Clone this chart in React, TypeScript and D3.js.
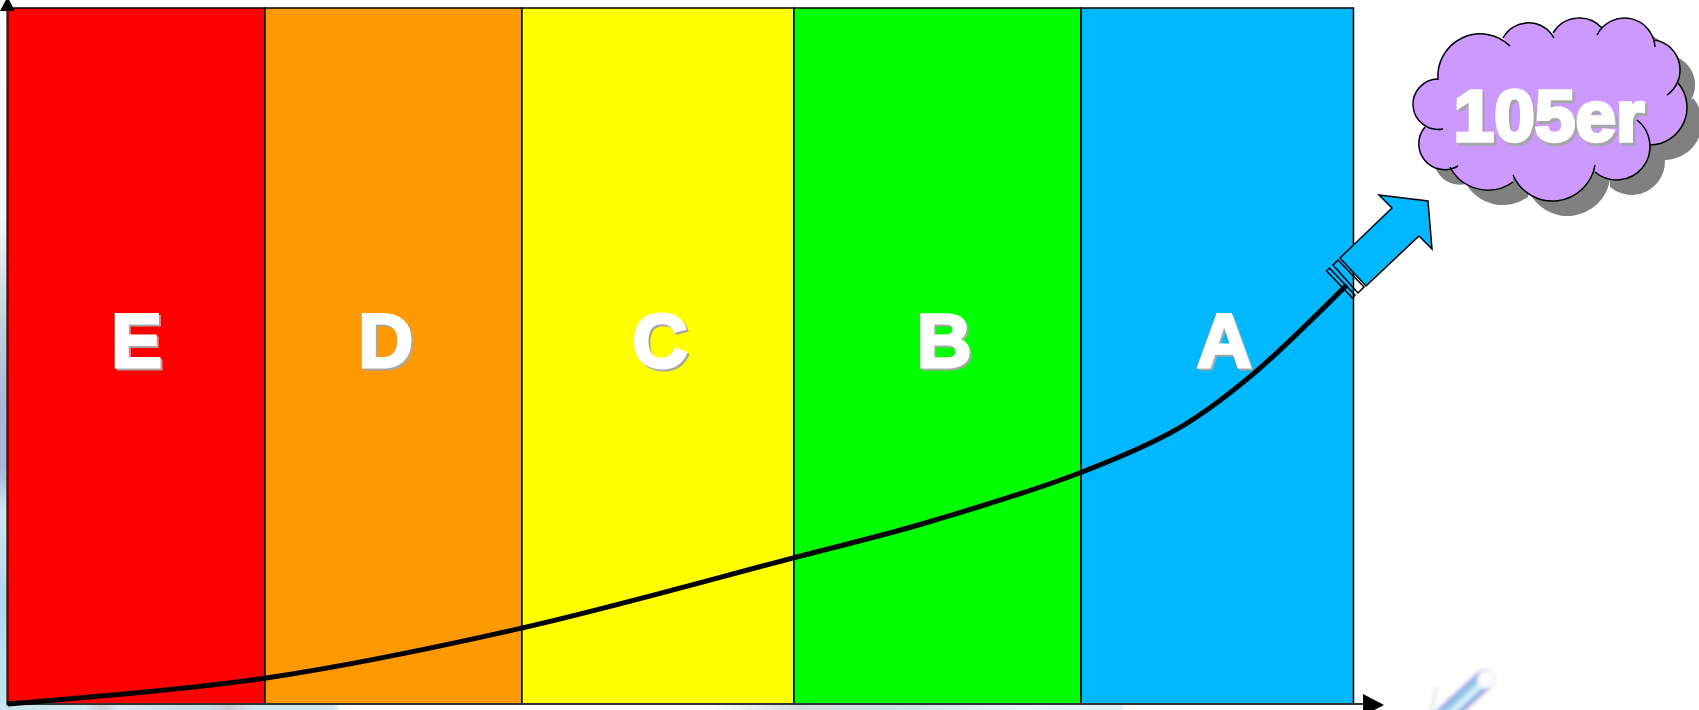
import React from "react";
import * as d3 from "d3";

const W = 1699;
const H = 710;

// Bands, left to right
const bandLabels = ["E", "D", "C", "B", "A"];
const bandColors = ["#ff0000", "#ff9900", "#ffff00", "#00ff00", "#00b8ff"];
const bandEdges = [0, 19.13, 38.22, 58.44, 79.76, 100];
const labelCentres = [9.6, 28.1, 48.5, 69.6, 90.4];

// The growth curve, in axis percent
const curveX = [0, 19.1, 38.2, 58.4, 68.0, 79.8, 87.0, 92.3, 99.5];
const curveY = [0, 3.7, 10.9, 21.0, 25.9, 33.3, 39.6, 47.0, 60.2];

const cloudLabel = "105er";

// Cloud lobes: start, a point on the arc, end
const cloudLobes: number[][][] = [
  [[1438, 80], [1447, 50], [1510, 46]],
  [[1503, 38], [1532, 23], [1554, 38]],
  [[1553, 33], [1578, 18], [1602, 28]],
  [[1597, 35], [1625, 18], [1655, 47]],
  [[1655, 40], [1679, 62], [1667, 95]],
  [[1678, 83], [1687, 107], [1650, 145]],
  [[1637, 120], [1650, 147], [1595, 172]],
  [[1595, 165], [1553, 201], [1513, 175]],
  [[1513, 182], [1490, 190], [1450, 167]],
  [[1458, 166], [1419, 147], [1425, 127]],
  [[1443, 129], [1413, 103], [1438, 79]],
];

const arrowPoints: [number, number][] = [
  [1340, 258], [1392, 208], [1379, 195], [1428, 201], [1432, 249], [1419, 236], [1366, 286],
];
const barOuter: [number, number][] = [[1333, 265], [1338, 260], [1364, 287], [1358, 293]];
const barInner: [number, number][] = [[1326.7, 271], [1329.5, 268], [1355, 295], [1352.5, 298]];

const x = d3.scaleLinear().domain([0, 100]).range([7.5, 1353.5]);
const y = d3.scaleLinear().domain([0, 100]).range([704, 8]);

const growth = d3
  .line<number>()
  .x((d) => x(d))
  .y((_, i) => y(curveY[i]))
  .curve(d3.curveCatmullRom.alpha(0.5));

function lobeArc(l: number[][]) {
  const [a, b, c] = l;
  const A = a[0] - c[0], B = a[1] - c[1], C = b[0] - c[0], D = b[1] - c[1];
  const det = 2 * (A * D - B * C);
  const s1 = A * (a[0] + c[0]) + B * (a[1] + c[1]);
  const s2 = C * (b[0] + c[0]) + D * (b[1] + c[1]);
  const cx = (s1 * D - s2 * B) / det;
  const cy = (A * s2 - C * s1) / det;
  const r = Math.hypot(a[0] - cx, a[1] - cy);
  const tau = Math.PI * 2;
  const ang = (p: number[]) => Math.atan2(p[1] - cy, p[0] - cx);
  const sweep = ((ang(c) - ang(a)) % tau + tau) % tau;
  return `A${r} ${r} 0 ${sweep > Math.PI ? 1 : 0} 1 ${c[0]} ${c[1]}`;
}

const cloudFill = cloudLobes.map((l) => `L${l[0][0]} ${l[0][1]}${lobeArc(l)}`).join("").replace(/^L/, "M") + "Z";
const poly = (p: [number, number][]) => p.map((q) => q.join(",")).join(" ");

const font = "'Liberation Sans', Arial, sans-serif";

function Shadowed({ tx, ty, text, size, dx, dy, sw }: any) {
  const common = {
    x: tx,
    y: ty,
    fontFamily: font,
    fontWeight: 700,
    fontSize: size,
    textAnchor: "middle",
    strokeWidth: sw,
    strokeLinejoin: "miter",
  };
  return (
    <g>
      <text {...(common as any)} dx={dx} dy={dy} fill="#a6a6a6" stroke="#a6a6a6">{text}</text>
      <text {...(common as any)} fill="#ffffff" stroke="#ffffff">{text}</text>
    </g>
  );
}

export default function App() {
  return (
    <svg width={W} height={H} viewBox={`0 0 ${W} ${H}`} style={{ position: "absolute", left: 0, top: 0, display: "block", background: "#fff" }}>
      <defs>
        <linearGradient id="leftStrip" x1="0" y1="0" x2="0" y2="1">
          <stop offset="0" stopColor="#ffffff" />
          <stop offset="0.3" stopColor="#f6f7fa" />
          <stop offset="0.45" stopColor="#c6d3dd" />
          <stop offset="0.58" stopColor="#a9b4d8" />
          <stop offset="0.66" stopColor="#a9b6da" />
          <stop offset="0.72" stopColor="#cfe6ee" />
          <stop offset="0.84" stopColor="#b4d6ee" />
          <stop offset="1" stopColor="#c4e6f0" />
        </linearGradient>
        <linearGradient id="bottomStrip" gradientUnits="userSpaceOnUse" x1="0" y1="0" x2={W} y2="0">
          <stop offset="0" stopColor="#c4e4f0" />
          <stop offset="0.05" stopColor="#cfe9f2" />
          <stop offset="0.06" stopColor="#c8d0d8" />
          <stop offset="0.07" stopColor="#d8eaf2" />
          <stop offset="0.12" stopColor="#c2dbe8" />
          <stop offset="0.135" stopColor="#c8ccd4" />
          <stop offset="0.15" stopColor="#cfe8f0" />
          <stop offset="0.197" stopColor="#cfe8f0" />
          <stop offset="0.2" stopColor="#ffffff" />
          <stop offset="0.415" stopColor="#ffffff" />
          <stop offset="0.47" stopColor="#d4dcdc" />
          <stop offset="0.53" stopColor="#c8e4e6" />
          <stop offset="0.6" stopColor="#e6f6f8" />
          <stop offset="0.66" stopColor="#e0f2f6" />
          <stop offset="0.662" stopColor="#ffffff" />
        </linearGradient>
        <filter id="soft" filterUnits="userSpaceOnUse" x="1400" y="640" width="130" height="100">
          <feGaussianBlur stdDeviation="2.2" />
        </filter>
      </defs>

      {/* faint background picture showing round the chart */}
      <rect x={0} y={0} width={7} height={H} fill="url(#leftStrip)" />
      <rect x={0} y={705} width={W} height={5} fill="url(#bottomStrip)" />
      <g>
        <line x1={1437} y1={686} x2={1431} y2={712} stroke="#e4e4ec" strokeWidth={3} filter="url(#soft)" />
        <line x1={1484} y1={680} x2={1430} y2={730} stroke="#a09ad8" strokeWidth={19} strokeLinecap="round" filter="url(#soft)" />
        <line x1={1485} y1={679} x2={1432} y2={727} stroke="#8ccdee" strokeWidth={13} strokeLinecap="round" filter="url(#soft)" />
        <line x1={1484} y1={682} x2={1445} y2={718} stroke="#eef8fb" strokeWidth={5} strokeLinecap="round" filter="url(#soft)" />
        <circle cx={1487} cy={679} r={10} fill="#fbfdfe" filter="url(#soft)" />
      </g>

      {/* bands */}
      {bandLabels.map((l, i) => (
        <rect
          key={l}
          x={x(bandEdges[i])}
          y={y(100)}
          width={x(bandEdges[i + 1]) - x(bandEdges[i])}
          height={y(0) - y(100)}
          fill={bandColors[i]}
          stroke="#000"
          strokeWidth={1.5}
        />
      ))}

      {/* axes */}
      <line x1={x(0)} y1={y(0)} x2={1364} y2={y(0)} stroke="#333" strokeWidth={2} />
      <line x1={x(0)} y1={y(0) + 1} x2={x(0)} y2={10} stroke="#222" strokeWidth={2} />
      <path d="M1363 694L1384 705L1363 716Z" fill="#000" />
      <path d="M0 11L7.5 -3L15 11Z" fill="#000" />

      {/* band letters */}
      {bandLabels.map((l, i) => (
        <Shadowed key={l} tx={x(labelCentres[i])} ty={367} text={l} size={76} dx={2} dy={2} sw={3} />
      ))}

      {/* growth curve */}
      <path d={growth(curveX) ?? ""} fill="none" stroke="#000" strokeWidth={5} />

      {/* arrow */}
      <polygon points={poly(arrowPoints)} fill="#00b8ff" stroke="#000" strokeWidth={1.5} strokeLinejoin="miter" />
      <polygon points={poly(barOuter)} fill="none" stroke="#000" strokeWidth={1.5} />
      <polygon points={poly(barInner)} fill="none" stroke="#000" strokeWidth={1.5} />

      {/* cloud */}
      <path d={cloudFill} transform="translate(15,15)" fill="#808080" />
      <path d={cloudFill} fill="#cc99ff" />
      {cloudLobes.map((l, i) => (
        <path key={i} d={`M${l[0][0]} ${l[0][1]}${lobeArc(l)}`} fill="none" stroke="#000" strokeWidth={1.5} />
      ))}
      <Shadowed tx={1549} ty={141} text={cloudLabel} size={73} dx={2.5} dy={2.5} sw={3.5} />
    </svg>
  );
}
